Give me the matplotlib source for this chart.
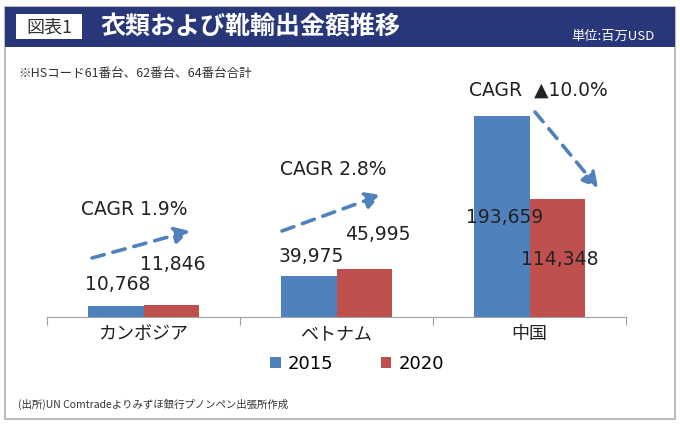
import numpy as np
import matplotlib
matplotlib.use("Agg")
import matplotlib.pyplot as plt
from matplotlib.patches import Rectangle, FancyArrowPatch

# data
countries = ["カンボジア", "ベトナム", "中国"]
years = ["2015", "2020"]
v2015 = [10768, 39975, 193659]
v2020 = [11846, 45995, 114348]
cagr = ["CAGR 1.9%", "CAGR 2.8%", "CAGR  ▲10.0%"]

BLUE = "#4F81BD"
RED = "#C0504D"
NAVY = "#283779"
JP = ["Noto Sans CJK JP", "DejaVu Sans"]
NUM = ["DejaVu Sans", "Noto Sans CJK JP"]

W, H = 680, 424
fig = plt.figure(figsize=(W / 100, H / 100), dpi=100, facecolor="white")


def px(x, y):
    # pixel (from top-left) to figure fraction
    return x / W, 1 - y / H


# frame and header band
fig.patches.append(Rectangle(px(5, 419), 670 / W, 412 / H, transform=fig.transFigure,
                             fill=False, edgecolor="#B0B0B0", lw=1.2))
fig.patches.append(Rectangle(px(5, 47), 670 / W, 40 / H, transform=fig.transFigure,
                             facecolor=NAVY, edgecolor="none"))
fig.patches.append(Rectangle(px(16, 39), 66 / W, 25 / H, transform=fig.transFigure,
                             facecolor="white", edgecolor="none"))
fig.text(*px(49, 27), "図表1", family=JP, fontsize=13, color="#333333",
         ha="center", va="center")
fig.text(*px(100, 27), "衣類および靴輸出金額推移", family=JP, fontsize=18,
         fontweight="bold", color="white", ha="left", va="center")
fig.text(*px(655, 36), "単位:百万USD", family=JP, fontsize=9.5, color="white",
         ha="right", va="center")
fig.text(*px(18, 73), "※HSコード61番台、62番台、64番台合計", family=JP, fontsize=9,
         color="#333333", ha="left", va="center")
fig.text(*px(18, 404), "(出所)UN Comtradeよりみずほ銀行プノンペン出張所作成",
         family=JP, fontsize=7.5, color="#333333", ha="left", va="center")

# plot area
ax = fig.add_axes([47 / W, (H - 317) / H, 579 / W, 259 / H])
x = np.arange(len(countries))
w = 0.29
b1 = ax.bar(x - w / 2, v2015, w, color=BLUE, label=years[0])
b2 = ax.bar(x + w / 2, v2020, w, color=RED, label=years[1])
ax.set_xlim(-0.5, 2.5)
ax.set_ylim(0, 250000)
for s in ["top", "right", "left"]:
    ax.spines[s].set_visible(False)
ax.spines["bottom"].set_color("#A0A0A0")
ax.set_yticks([])
ax.set_xticks([-0.5, 0.5, 1.5, 2.5])
ax.set_xticklabels([])
ax.tick_params(axis="x", length=6, color="#A0A0A0", direction="out")
ax.set_xticks(x, minor=True)
ax.set_xticklabels(countries, minor=True, family=JP, fontsize=13, color="#222222")
ax.tick_params(axis="x", which="minor", length=0, pad=6)

# data labels, offsets in pixels from bar top centre
offs2015 = [(2.5, 21), (2.5, 19), (3.5, -101)]
offs2020 = [(1.5, 40), (13.5, 35), (2.5, -61)]
for bars, vals, offs in [(b1, v2015, offs2015), (b2, v2020, offs2020)]:
    for bar, v, (dx, dy) in zip(bars, vals, offs):
        ax.annotate(f"{v:,}", (bar.get_x() + bar.get_width() / 2, v),
                    xytext=(dx * 0.72, dy * 0.72), textcoords="offset points",
                    ha="center", va="center", family=NUM, fontsize=13.5,
                    color="#222222")

# CAGR text and dashed arrows (pixel positions)
cagr_pos = [(134, 210), (333, 169), (538, 90)]
arrows = [((92, 258), (190, 231)), ((282, 231), (381, 195)), ((535, 112), (598, 188))]
for t, (cx, cy) in zip(cagr, cagr_pos):
    fig.text(*px(cx, cy), t, family=NUM, fontsize=13.5, color="#222222",
             ha="center", va="center")
for start, end in arrows:
    fig.add_artist(FancyArrowPatch(
        px(*start), px(*end), transform=fig.transFigure,
        arrowstyle="-|>,head_length=9,head_width=5", mutation_scale=1,
        color=BLUE, lw=2.6, linestyle=(0, (3.5, 2.5)), shrinkA=0, shrinkB=0))

fig.legend(handles=[b1, b2], labels=years, loc="center", bbox_to_anchor=px(357, 364),
           ncol=2, frameon=False, prop={"family": NUM, "size": 13},
           handlelength=0.6, handleheight=0.6, columnspacing=2.6, handletextpad=0.4)

fig.savefig("out.png", dpi=100, facecolor="white")
